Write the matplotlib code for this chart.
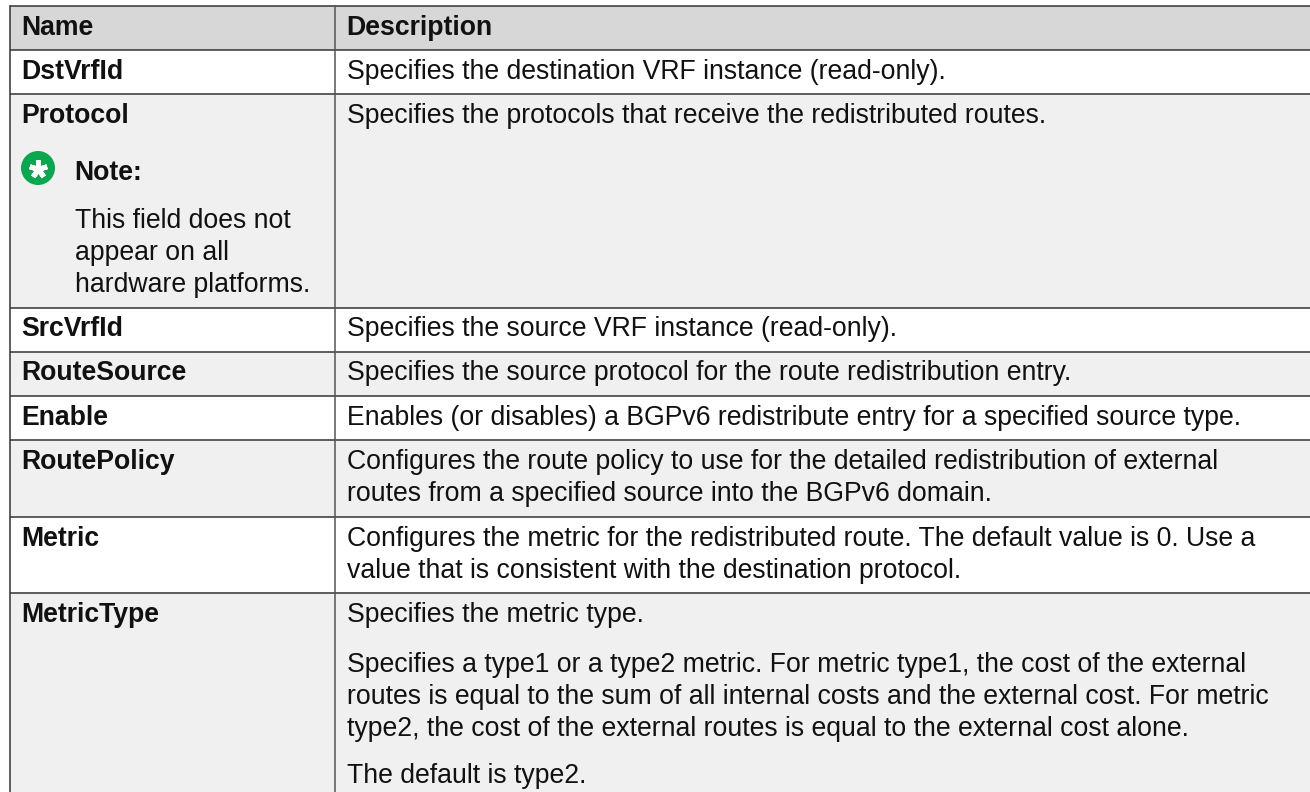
import matplotlib
matplotlib.use('Agg')
import matplotlib.pyplot as plt
from matplotlib.patches import Circle, Rectangle

plt.rcParams['font.family'] = ['Liberation Sans', 'DejaVu Sans']

W, H = 1310, 792

col_names = ['Name', 'Description']
row_names = ['DstVrfId', 'Protocol', 'SrcVrfId', 'RouteSource', 'Enable',
             'RoutePolicy', 'Metric', 'MetricType']
row_desc = [
    ['Specifies the destination VRF instance (read-only).'],
    ['Specifies the protocols that receive the redistributed routes.'],
    ['Specifies the source VRF instance (read-only).'],
    ['Specifies the source protocol for the route redistribution entry.'],
    ['Enables (or disables) a BGPv6 redistribute entry for a specified source type.'],
    ['Configures the route policy to use for the detailed redistribution of external',
     'routes from a specified source into the BGPv6 domain.'],
    ['Configures the metric for the redistributed route. The default value is 0. Use a',
     'value that is consistent with the destination protocol.'],
    ['Specifies the metric type.'],
]
note_title = 'Note:'
note_lines = ['This field does not', 'appear on all', 'hardware platforms.']
metric_type_extra = [
    'Specifies a type1 or a type2 metric. For metric type1, the cost of the external',
    'routes is equal to the sum of all internal costs and the external cost. For metric',
    'type2, the cost of the external routes is equal to the external cost alone.',
]
metric_type_default = 'The default is type2.'

# row borders in pixels, header first
row_edges = [6, 50, 94, 307.5, 351.5, 396, 440, 516.5, 592.5, 792]
shaded = [False, True, False, True, False, True, False, True]

left, split, right = 10, 334.5, 1310
fs = 19.15
lh = 32

fig = plt.figure(figsize=(W / 100, H / 100), dpi=100)
ax = fig.add_axes([0, 0, 1, 1])
ax.set_xlim(0, W)
ax.set_ylim(H, 0)
ax.axis('off')


def put(x, y, s, bold=False):
    # bold glyphs sit a pixel further right than the regular ones
    ax.text(x - 1 if bold else x, y, s, fontsize=fs, color='#111111', va='baseline',
            ha='left', fontweight='bold' if bold else 'normal')


ax.add_patch(Rectangle((left, row_edges[0]), right - left, row_edges[1] - row_edges[0],
                       fc='#d7d7d7', ec='none'))
for i, s in enumerate(shaded):
    if s:
        ax.add_patch(Rectangle((left, row_edges[i + 1]), right - left,
                               row_edges[i + 2] - row_edges[i + 1], fc='#f0f0f0', ec='none'))

# borders
for y in row_edges[:-1]:
    ax.plot([left, right], [y, y], color='#333333', lw=1.1, solid_capstyle='butt')
ax.plot([left, left], [row_edges[0], H], color='#333333', lw=1.1)
ax.plot([split, split], [row_edges[0], H], color='#555555', lw=1.1)

# header
put(22, 35, col_names[0], bold=True)
put(347, 35, col_names[1], bold=True)

for i in range(len(row_names)):
    y = row_edges[i + 1] + 29
    put(22, y, row_names[i], bold=True)
    for k, s in enumerate(row_desc[i]):
        put(347, y + k * lh, s)

# note block in the Protocol row
ax.add_patch(Circle((38, 168), 17, fc='#0aa650', ec='none'))
ax.plot([38], [169], marker=(5, 2, 0), ms=13, mew=3.6, color='white')
put(75, 180, note_title, bold=True)
for k, s in enumerate(note_lines):
    put(75, 228 + k * lh, s)

# extra paragraphs of MetricType
for k, s in enumerate(metric_type_extra):
    put(347, 672 + k * lh, s)
put(347, 783, metric_type_default)

fig.savefig('out.png', dpi=100)
